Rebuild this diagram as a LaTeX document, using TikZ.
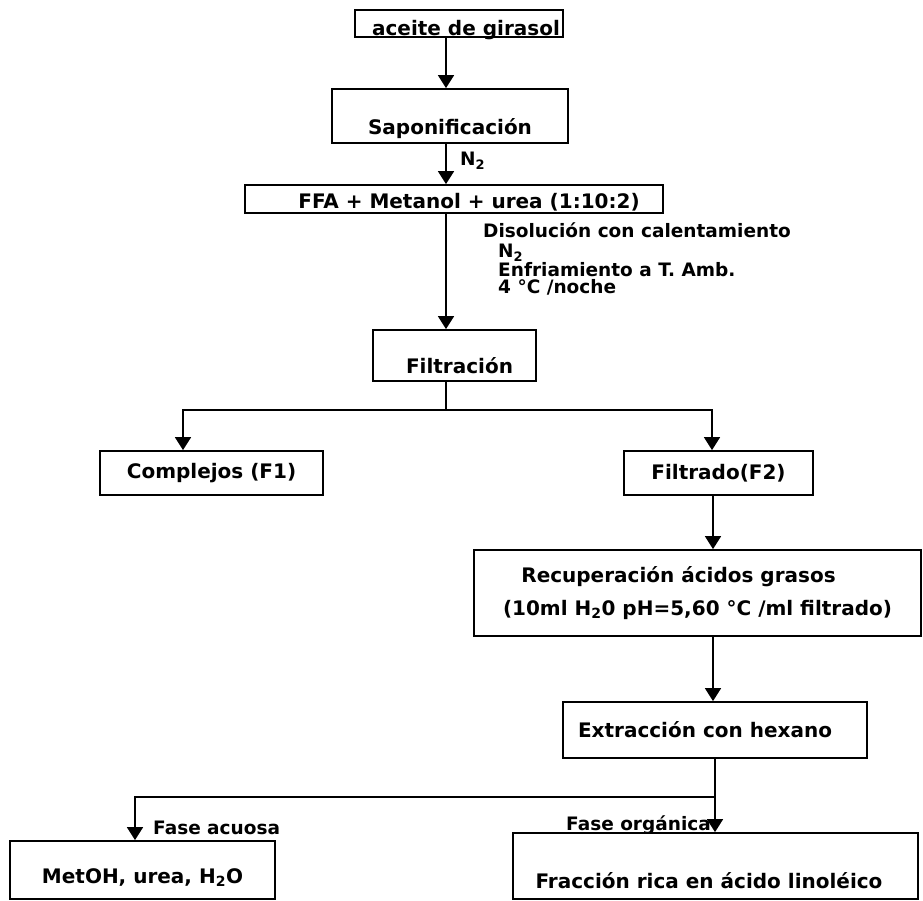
\documentclass[tikz,border=0pt]{standalone}
\usepackage{fontspec}
\setmainfont{DejaVu Sans}
\usetikzlibrary{positioning,arrows.meta}

\tikzset{
  caja/.style={draw, line width=1.8pt, inner sep=0pt, align=center,
    font=\bfseries\fontsize{20}{33}\selectfont},
  base/.style={text height=#1, text depth=0pt},
  flecha/.style={line width=1.8pt, -{Triangle[width=16pt,length=13pt]}},
  linea/.style={line width=1.8pt},
  nota/.style={inner sep=0pt, align=left, font=\bfseries\fontsize{18.5}{17}\selectfont},
}

\begin{document}
\begin{tikzpicture}[x=1pt,y=-1pt]
    \useasboundingbox (0,0) rectangle (923,901);
    % ejes de las flechas
    \coordinate (eje) at (446,0);
    \coordinate (eje2) at (713,0);
    % cajas
    \node[caja, minimum width=208pt, minimum height=27pt, base=25pt] (aceite) at (459,23.5) {\hspace*{14pt}aceite de girasol};
    \node[caja, minimum width=236pt, minimum height=54pt, base=38pt] (sapon) at (450,116) {Saponificación};
    \node[caja, minimum width=418pt, minimum height=28pt, base=20pt] (ffa) at (454,199) {\hspace*{30pt}FFA + Metanol + urea (1:10:2)};
    \node[caja, minimum width=163pt, minimum height=51pt, base=35pt] (filt) at (454.5,355.5) {\hspace*{10pt}Filtración};
    \node[caja, minimum width=223pt, minimum height=44pt] (compl) at (211.5,473) {Complejos (F1)};
    \node[caja, minimum width=189pt, minimum height=44pt] (filtr) at (718.5,473) {Filtrado(F2)};
    \node[caja, minimum width=447pt, minimum height=86pt] (recup) at (697.5,593)
      {\hspace*{-38pt}Recuperación ácidos grasos\\ (10ml H\textsubscript{2}0 pH=5,60 °C /ml filtrado)};
    \node[caja, minimum width=304pt, minimum height=56pt] (extr) at (715,730) {Extracción con hexano\hspace*{20pt}};
    \node[caja, minimum width=265pt, minimum height=58pt, base=26pt] (metoh) at (142.5,870) {MetOH, urea, H\textsubscript{2}O};
    \node[caja, minimum width=405pt, minimum height=66pt, base=44pt] (fracc) at (715.5,866) {Fracción rica en ácido linoléico\hspace*{13pt}};
    % textos sueltos
    \node[nota, anchor=west] (n2) at (460,161) {N\textsubscript{2}};
    \node[nota, anchor=north west] (cond) at (483,223) {Disolución con calentamiento\\[3pt]
      \hspace*{15pt}N\textsubscript{2}\\
      \hspace*{15pt}Enfriamiento a T. Amb.\\
      \hspace*{15pt}4 °C /noche};
    % flechas
    \draw[flecha] (aceite.south -| eje) -- (sapon.north -| eje);
    \draw[flecha] (sapon.south -| eje) -- (ffa.north -| eje);
    \draw[flecha] (ffa.south -| eje) -- (filt.north -| eje);
    \coordinate (rama1) at (446,410);
    \draw[linea] (filt.south -| eje) -- (rama1);
    \draw[flecha] (rama1) -| ([xshift=-28.5pt]compl.north);
    \draw[flecha] (rama1) -| ([xshift=-6.5pt]filtr.north);
    \draw[flecha] (filtr.south -| eje2) -- (recup.north -| eje2);
    \draw[flecha] (recup.south -| eje2) -- (extr.north -| eje2);
    \coordinate (rama2) at (715,797);
    \draw[linea] (extr.south -| rama2) -- (rama2);
    \draw[flecha] (rama2) -- (fracc.north -| rama2);
    \draw[flecha] (rama2) -| ([xshift=-7.5pt]metoh.north);
    \node[nota, anchor=west] (acuosa) at (153,828) {Fase acuosa};
    \node[nota, anchor=east] (organica) at (711,825) {Fase orgánica};
\end{tikzpicture}
\end{document}
